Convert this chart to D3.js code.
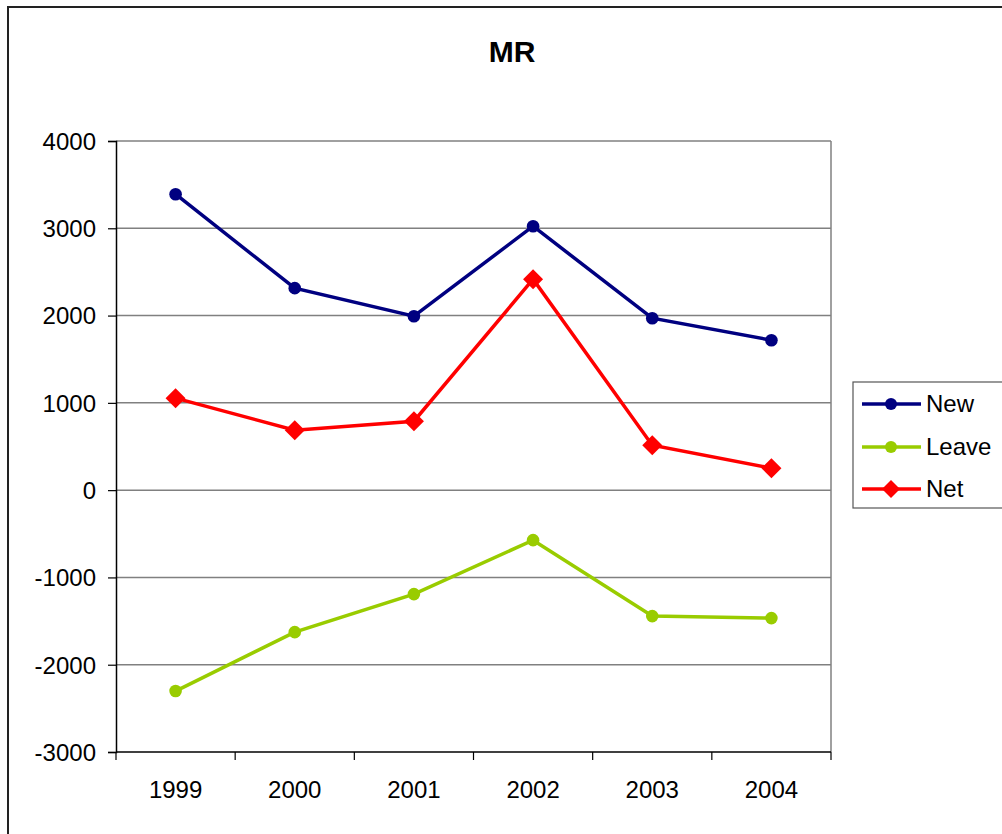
<!DOCTYPE html>
<html>
<head>
<meta charset="utf-8">
<script src="https://cdn.jsdelivr.net/npm/d3@7"></script>
<style>
  body { margin: 0; background: #fff; }
  svg { display: block; font-family: "Liberation Sans", Arial, sans-serif; }
</style>
</head>
<body>
<div id="vis"></div>
<script>
// data
var years = ["1999", "2000", "2001", "2002", "2003", "2004"];
var newVals = [3390, 2314, 1993, 3024, 1970, 1718];
var leaveVals = [-2302, -1627, -1191, -573, -1443, -1466];
var netVals = [1054, 687, 790, 2417, 515, 252];
var yTicks = [-3000, -2000, -1000, 0, 1000, 2000, 3000, 4000];

var series = [
  { name: "New", values: newVals, color: "#000080", marker: "circle" },
  { name: "Leave", values: leaveVals, color: "#99CC00", marker: "circle" },
  { name: "Net", values: netVals, color: "#FF0000", marker: "diamond" }
];

var W = 1002, H = 834;
var margin = { top: 141, left: 116, right: 171, bottom: 82 };
var width = W - margin.left - margin.right;
var height = H - margin.top - margin.bottom;

var svg = d3.select("#vis").append("svg")
  .attr("width", W)
  .attr("height", H);

// outer chart frame
svg.append("rect")
  .attr("x", 8).attr("y", 7)
  .attr("width", 1010).attr("height", 840)
  .attr("fill", "none")
  .attr("stroke", "#222")
  .attr("stroke-width", 2);

svg.append("text")
  .attr("x", 512).attr("y", 62)
  .attr("text-anchor", "middle")
  .style("font-size", "30px")
  .style("font-weight", "bold")
  .text("MR");

var g = svg.append("g")
  .attr("transform", "translate(" + margin.left + "," + margin.top + ")");

var xScale = d3.scaleBand().domain(years).range([0, width]);
var yScale = d3.scaleLinear().domain([-3000, 4000]).range([height, 0]);

// gridlines
g.selectAll(".grid").data(yTicks.filter(function(d) { return d > -3000; }))
  .enter().append("line")
  .attr("x1", 0).attr("x2", width)
  .attr("y1", function(d) { return yScale(d); })
  .attr("y2", function(d) { return yScale(d); })
  .attr("stroke", "#808080")
  .attr("stroke-width", 1.5);

// right border of plot area
g.append("line")
  .attr("x1", width).attr("x2", width)
  .attr("y1", 0).attr("y2", height)
  .attr("stroke", "#808080")
  .attr("stroke-width", 1.5);

// y axis
var yAxis = d3.axisLeft(yScale).tickValues(yTicks)
  .tickFormat(function(d) { return String(d); })
  .tickSize(8).tickPadding(12);
var yG = g.append("g").call(yAxis);
yG.attr("font-size", null).attr("font-family", null);
yG.select(".domain").attr("stroke", "#000").attr("stroke-width", 1.5);
yG.selectAll(".tick line").attr("stroke", "#000").attr("stroke-width", 1.2);
yG.selectAll("text").style("font-size", "24px").attr("fill", "#000").attr("dy", "0.35em");

// x axis: ticks at band edges
var xG = g.append("g").attr("transform", "translate(0," + height + ")");
xG.append("line")
  .attr("x1", 0).attr("x2", width)
  .attr("stroke", "#000").attr("stroke-width", 1.5);
var edges = years.map(function(d) { return xScale(d); }).concat([width]);
xG.selectAll(".xt").data(edges).enter().append("line")
  .attr("x1", function(d) { return d; })
  .attr("x2", function(d) { return d; })
  .attr("y1", 0).attr("y2", 8)
  .attr("stroke", "#000").attr("stroke-width", 1.2);
xG.selectAll(".xl").data(years).enter().append("text")
  .attr("x", function(d) { return xScale(d) + xScale.bandwidth() / 2; })
  .attr("y", 46)
  .attr("text-anchor", "middle")
  .style("font-size", "24px")
  .text(function(d) { return d; });

var cx = function(i) { return xScale(years[i]) + xScale.bandwidth() / 2; };

var line = d3.line()
  .x(function(d, i) { return cx(i); })
  .y(function(d) { return yScale(d); });

var diamond = function(x, y, r) {
  return "M" + x + "," + (y - r) + "L" + (x + r) + "," + y + "L" + x + "," + (y + r) + "L" + (x - r) + "," + y + "Z";
};

series.forEach(function(s) {
  g.append("path")
    .datum(s.values)
    .attr("d", line)
    .attr("fill", "none")
    .attr("stroke", s.color)
    .attr("stroke-width", 3.5);

  if (s.marker === "circle") {
    g.selectAll(null).data(s.values).enter().append("circle")
      .attr("cx", function(d, i) { return cx(i); })
      .attr("cy", function(d) { return yScale(d); })
      .attr("r", 6.3)
      .attr("fill", s.color);
  } else {
    g.selectAll(null).data(s.values).enter().append("path")
      .attr("d", function(d, i) { return diamond(cx(i), yScale(d), 10); })
      .attr("fill", s.color);
  }
});

// legend
var lg = svg.append("g");
lg.append("rect")
  .attr("x", 853).attr("y", 382)
  .attr("width", 170).attr("height", 126)
  .attr("fill", "#fff")
  .attr("stroke", "#555")
  .attr("stroke-width", 1.2);

var rowY = [404, 447, 489];
series.forEach(function(s, i) {
  var y = rowY[i];
  lg.append("line")
    .attr("x1", 862).attr("x2", 921)
    .attr("y1", y).attr("y2", y)
    .attr("stroke", s.color).attr("stroke-width", 3.5);
  if (s.marker === "circle") {
    lg.append("circle").attr("cx", 891).attr("cy", y).attr("r", 6).attr("fill", s.color);
  } else {
    lg.append("path").attr("d", diamond(891, y, 9)).attr("fill", s.color);
  }
  lg.append("text")
    .attr("x", 926).attr("y", y)
    .attr("dy", "0.35em")
    .style("font-size", "24px")
    .text(s.name);
});
</script>
</body>
</html>
